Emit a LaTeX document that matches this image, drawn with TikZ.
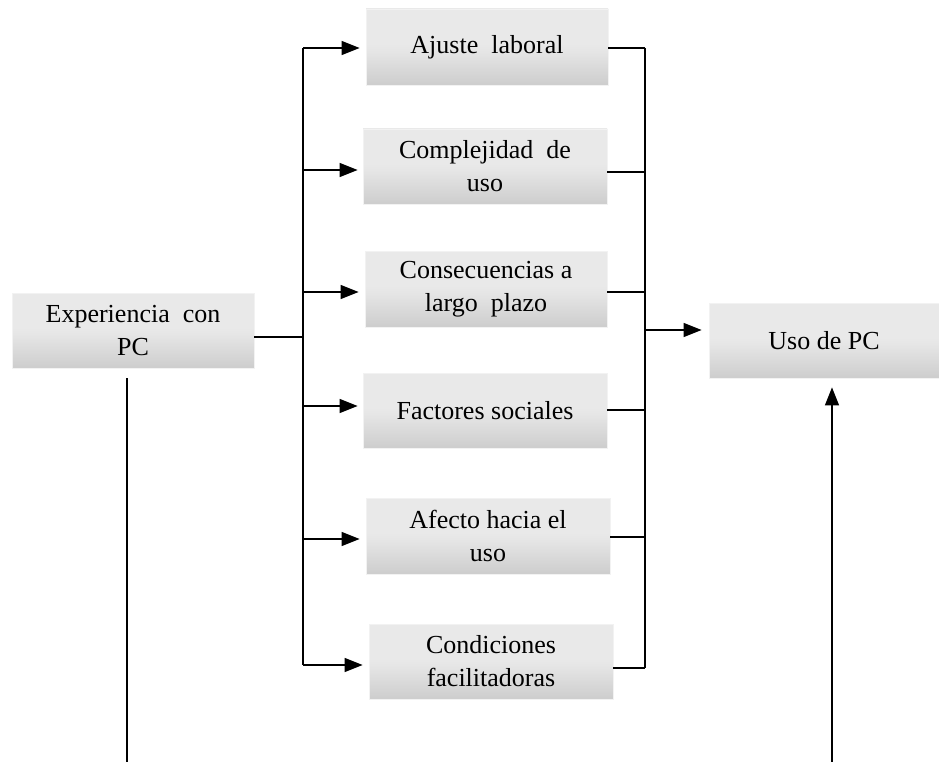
\documentclass[tikz,border=0pt]{standalone}
\usepackage{fontspec}
\setmainfont{Liberation Serif}
\usetikzlibrary{arrows.meta,calc}

\definecolor{boxtop}{HTML}{E9E9E9}
\definecolor{boxmid}{HTML}{E5E5E5}
\definecolor{boxbot}{HTML}{CDCDCD}
\definecolor{boxline}{HTML}{F2F2F2}

% light grey fill, darkening towards the lower edge
\pgfdeclareverticalshading{boxshade}{100bp}{%
  color(0bp)=(boxbot); color(25bp)=(boxbot); color(47bp)=(boxmid);
  color(52bp)=(boxtop); color(75bp)=(boxtop); color(100bp)=(boxtop)}

\tikzset{
  factor/.style={shading=boxshade, draw=boxline, line width=0.8pt,
    minimum height=75pt, inner sep=0pt, align=center,
    font=\fontsize{26}{33}\selectfont},
  link/.style={line width=1.3pt, black},
  arr/.style={link, -{Triangle[length=18pt,width=14pt]}},
}

\begin{document}
\begin{tikzpicture}[x=1pt,y=-1pt]
\useasboundingbox (0,0) rectangle (939,762);

% boxes
\node[factor, minimum width=242pt] (exp) at (133,330.5) {Experiencia\ \ con\\PC};
\node[factor, minimum width=242pt, minimum height=76pt] (aj) at (487,47) {Ajuste\ \ laboral};
\node[factor, minimum width=244pt] (co) at (485,166.5) {Complejidad\ \ de\\uso};
\node[factor, minimum width=242pt, minimum height=76pt] (cs) at (486,289) {Consecuencias a\\largo\ \ plazo};
\node[factor, minimum width=244pt] (fs) at (485,410.5) {Factores sociales};
\node[factor, minimum width=244pt, minimum height=76pt] (af) at (488,536) {Afecto hacia el\\uso};
\node[factor, minimum width=244pt] (cf) at (491,661.5) {Condiciones\\facilitadoras};
\node[factor, minimum width=230pt] (uso) at (824,340.5) {Uso de PC};

% left distribution bus
\coordinate (lj) at (303,337);
\coordinate (ltop) at (303,48);
\coordinate (lbot) at (303,665);
\draw[link] (exp.east |- lj) -- (lj);
\draw[link] (ltop) -- (lbot);
\draw[arr, shorten >=6pt] (ltop) -- (aj.west |- ltop);
\draw[arr, shorten >=5pt] (303,170) -- (co.west |- 0,170);
\draw[arr, shorten >=6pt] (303,292) -- (cs.west |- 0,292);
\draw[arr, shorten >=5pt] (303,406) -- (fs.west |- 0,406);
\draw[arr, shorten >=6pt] (303,539) -- (af.west |- 0,539);
\draw[arr, shorten >=6pt] (lbot) -- (cf.west |- lbot);

% right collecting bus
\coordinate (rtop) at (645,48);
\coordinate (rbot) at (645,668);
\coordinate (rj) at (645,330);
\draw[link] (rtop) -- (rbot);
\draw[link] (aj.east |- rtop) -- (rtop);
\draw[link] (co.east |- 0,172) -- (645,172);
\draw[link] (cs.east |- 0,292) -- (645,292);
\draw[link] (fs.east |- 0,410) -- (645,410);
\draw[link] (af.east |- 0,537) -- (645,537);
\draw[link] (cf.east |- rbot) -- (rbot);
\draw[arr, shorten >=7pt] (rj) -- (uso.west |- rj);

% long vertical links at the bottom
\coordinate (bl) at (127,762);
\coordinate (br) at (832,762);
\draw[link, shorten >=10pt] (bl) -- (exp.south -| bl);
\draw[arr, shorten >=9pt] (br) -- (uso.south -| br);
\end{tikzpicture}
\end{document}
